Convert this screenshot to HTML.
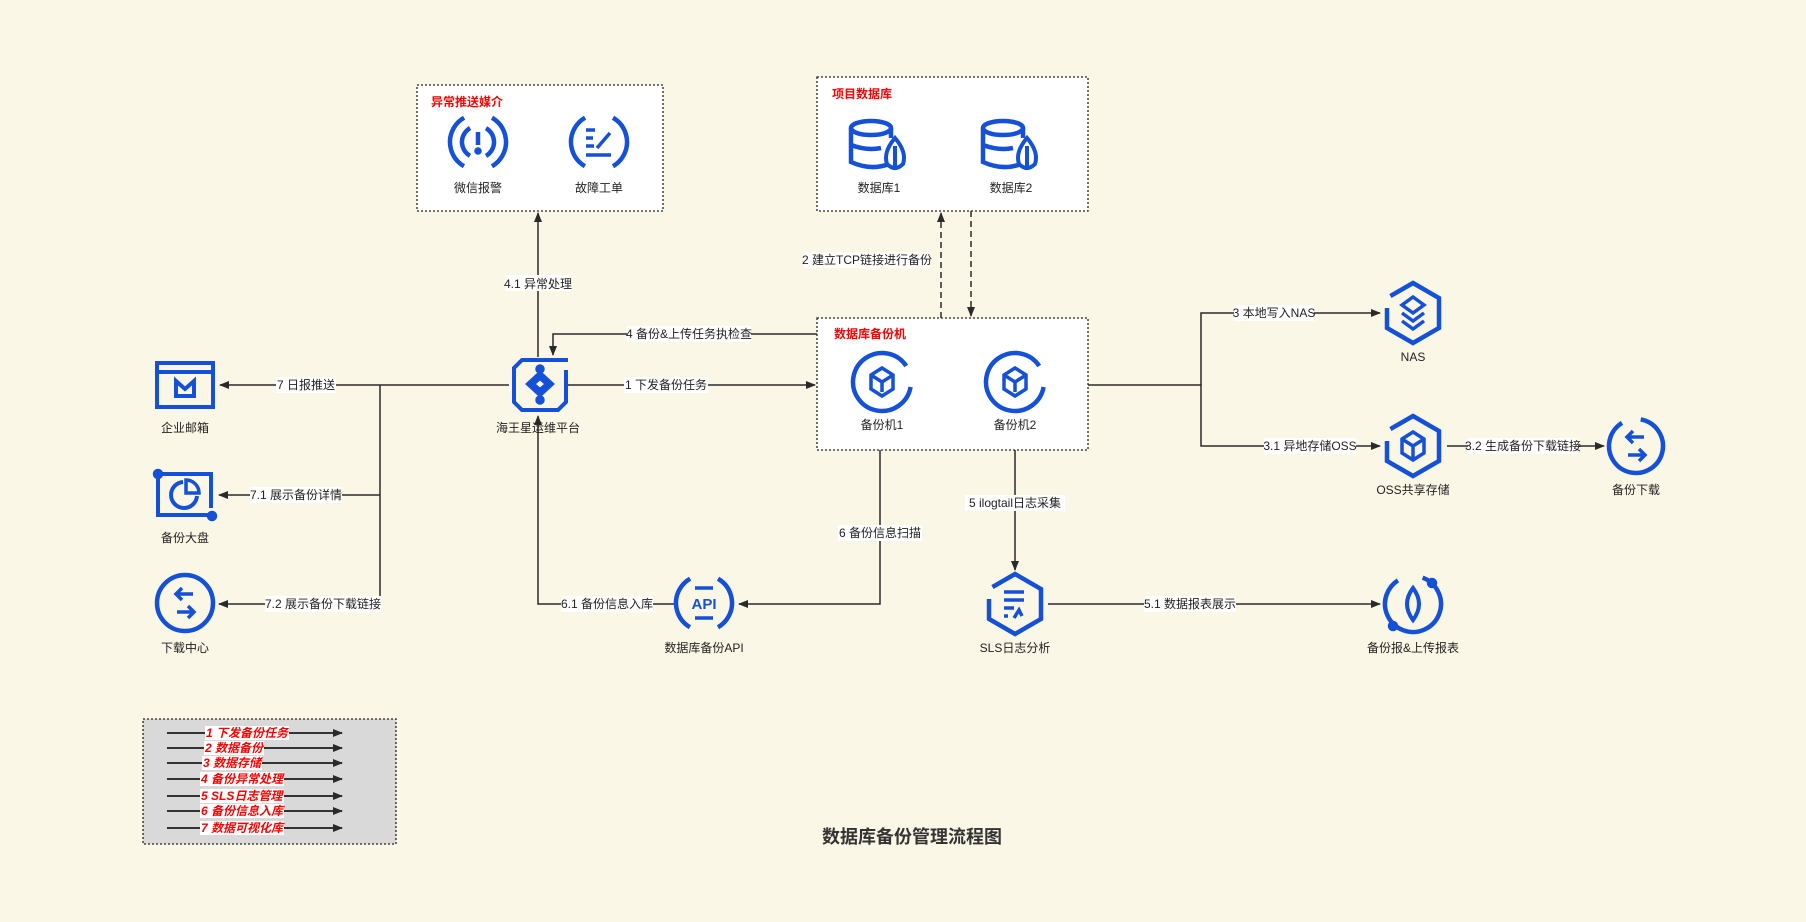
<!DOCTYPE html>
<html><head><meta charset="utf-8"><style>
html,body{margin:0;padding:0;background:#fbf7e6;}
svg{display:block}
text{font-family:"Liberation Sans","Noto Sans CJK SC",sans-serif;}
</style></head><body>
<svg width="1806" height="922" viewBox="0 0 1806 922" xmlns="http://www.w3.org/2000/svg">
<defs>
<marker id="ar" markerWidth="10" markerHeight="8" refX="9" refY="4" orient="auto" markerUnits="userSpaceOnUse">
<path d="M0,0 L10,4 L0,8 Z" fill="#2a2a2a"/></marker>
</defs>
<rect width="1806" height="922" fill="#fbf7e6"/>

<rect x="417" y="85" width="246" height="126" fill="#fff" stroke="#222" stroke-width="1.3" stroke-dasharray="2,2"/>
<text x="431" y="106" font-size="12" font-weight="bold" fill="#ff0000">异常推送媒介</text>
<rect x="817" y="77" width="271" height="134" fill="#fff" stroke="#222" stroke-width="1.3" stroke-dasharray="2,2"/>
<text x="832" y="98" font-size="12" font-weight="bold" fill="#ff0000">项目数据库</text>
<rect x="817" y="318" width="271" height="132" fill="#fff" stroke="#222" stroke-width="1.3" stroke-dasharray="2,2"/>
<text x="834" y="338" font-size="12" font-weight="bold" fill="#ff0000">数据库备份机</text>

<g stroke="#2a2a2a" stroke-width="1.5" fill="none">
<path d="M538,357 V213" marker-end="url(#ar)"/>
<path d="M817,334 H553 V355" marker-end="url(#ar)"/>
<path d="M568,385 H815" marker-end="url(#ar)"/>
<path d="M509,385 H220" marker-end="url(#ar)"/>
<path d="M380,385 V604"/>
<path d="M380,495 H219" marker-end="url(#ar)"/>
<path d="M380,604 H219" marker-end="url(#ar)"/>
<path d="M674,604 H538 V416" marker-end="url(#ar)"/>
<path d="M880,450 V604 H739" marker-end="url(#ar)"/>
<path d="M1015,450 V570" marker-end="url(#ar)"/>
<path d="M1048,604 H1380" marker-end="url(#ar)"/>
<path d="M941,318 V213" stroke-dasharray="6,4" marker-end="url(#ar)"/>
<path d="M971,211 V316" stroke-dasharray="6,4" marker-end="url(#ar)"/>
<path d="M1088,385 H1201 V446 H1380" marker-end="url(#ar)"/>
<path d="M1201,385 V313 H1380" marker-end="url(#ar)"/>
<path d="M1447,446 H1488" />
<path d="M1488,446 H1604" marker-end="url(#ar)"/>
</g>

<g font-size="12" fill="#222" text-anchor="middle">
<rect x="505" y="275" width="66" height="16" fill="#fff"/><text x="538" y="288">4.1 异常处理</text>
<rect x="627" y="326" width="124" height="16" fill="#fff"/><text x="689" y="338">4 备份&amp;上传任务执检查</text>
<rect x="624" y="377" width="84" height="16" fill="#fff"/><text x="666" y="389">1 下发备份任务</text>
<rect x="276" y="377" width="60" height="16" fill="#fff"/><text x="306" y="389">7 日报推送</text>
<rect x="250" y="487" width="92" height="16" fill="#fff"/><text x="296" y="499">7.1 展示备份详情</text>
<rect x="265" y="596" width="116" height="16" fill="#fff"/><text x="323" y="608">7.2 展示备份下载链接</text>
<rect x="561" y="596" width="92" height="16" fill="#fff"/><text x="607" y="608">6.1 备份信息入库</text>
<rect x="838" y="525" width="84" height="16" fill="#fff"/><text x="880" y="537">6 备份信息扫描</text>
<rect x="965" y="495" width="100" height="16" fill="#fff"/><text x="1015" y="507">5 ilogtail日志采集</text>
<rect x="1144" y="596" width="92" height="16" fill="#fff"/><text x="1190" y="608">5.1 数据报表展示</text>
<rect x="804" y="252" width="126" height="16" fill="#fff"/><text x="867" y="264">2 建立TCP链接进行备份</text>
<rect x="1234" y="305" width="80" height="16" fill="#fff"/><text x="1274" y="317">3 本地写入NAS</text>
<rect x="1264" y="438" width="92" height="16" fill="#fff"/><text x="1310" y="450">3.1 异地存储OSS</text>
<rect x="1468" y="438" width="110" height="16" fill="#fff"/><text x="1523" y="450">3.2 生成备份下载链接</text>
</g>

<g font-size="12" fill="#222" text-anchor="middle">
<text x="478" y="192">微信报警</text>
<text x="599" y="192">故障工单</text>
<text x="879" y="192">数据库1</text>
<text x="1011" y="192">数据库2</text>
<text x="882" y="429">备份机1</text>
<text x="1015" y="429">备份机2</text>
<text x="538" y="432">海王星运维平台</text>
<text x="185" y="432">企业邮箱</text>
<text x="185" y="542">备份大盘</text>
<text x="185" y="652">下载中心</text>
<text x="704" y="652">数据库备份API</text>
<text x="1413" y="361">NAS</text>
<text x="1413" y="494">OSS共享存储</text>
<text x="1636" y="494">备份下载</text>
<text x="1015" y="652">SLS日志分析</text>
<text x="1413" y="652">备份报&amp;上传报表</text>
</g>

<g stroke="#1450d8" fill="none" stroke-width="4.5">
<circle cx="478" cy="142" r="28" stroke-dasharray="58.6 29.3" transform="rotate(-60 478 142)"/>
<circle cx="478" cy="142" r="16" stroke-dasharray="33.5 16.8" transform="rotate(-60 478 142)"/>
<line x1="478" y1="132" x2="478" y2="145"/>
<circle cx="478" cy="151" r="1.5" fill="#1450d8"/>
<circle cx="599" cy="142" r="28" stroke-dasharray="58.6 29.3" transform="rotate(-60 599 142)"/>
<path d="M586,130 h9 M586,138 h7 M586,146 h8 M586,155 h25" stroke-width="3.5"/>
<path d="M597,148 L610,133" stroke-width="3.5"/>
<g transform="translate(879,144)">
<ellipse cx="-8" cy="-16" rx="20" ry="7"/>
<path d="M-28,-16 V18 Q-8,27 10,20 M-28,1 Q-12,7 2,4 M12,-16 V-6"/>
<path d="M16,-6 Q4,8 8,20 Q16,28 24,20 Q28,8 16,-6 Z M16,2 V26" stroke-width="4"/>
</g>
<g transform="translate(1011,144)">
<ellipse cx="-8" cy="-16" rx="20" ry="7"/>
<path d="M-28,-16 V18 Q-8,27 10,20 M-28,1 Q-12,7 2,4 M12,-16 V-6"/>
<path d="M16,-6 Q4,8 8,20 Q16,28 24,20 Q28,8 16,-6 Z M16,2 V26" stroke-width="4"/>
</g>
<g transform="translate(882,382)">
<circle r="29" stroke-dasharray="160 22" transform="rotate(10)"/>
<path d="M0,-14 L11,-7 V7 L0,14 L-11,7 V-7 Z M-11,-7 L0,0 L11,-7 M0,0 V10" stroke-width="3.5"/>
</g>
<g transform="translate(1015,382)">
<circle r="29" stroke-dasharray="160 22" transform="rotate(10)"/>
<path d="M0,-14 L11,-7 V7 L0,14 L-11,7 V-7 Z M-11,-7 L0,0 L11,-7 M0,0 V10" stroke-width="3.5"/>
</g>
<path d="M568,360 H522 L514,368 V402 L522,410 H558 L566,402 V370" stroke-width="4"/>
<path d="M540,373 L552,384 L540,395 L528,384 Z M533,384 L540,378 L547,384 L540,390 Z" stroke-width="4"/>
<circle cx="540" cy="369" r="2.5" fill="#1450d8"/><circle cx="540" cy="400" r="2.5" fill="#1450d8"/>
<rect x="157" y="363" width="56" height="44" stroke-width="4"/>
<line x1="157" y1="372" x2="213" y2="372" stroke-width="4"/>
<path d="M176,396 V381 L185,389 L194,381 V396 Z" stroke-width="4"/>
<path d="M158,476 V515 H211" stroke-width="4"/><path d="M158,474 H211 V508" stroke-width="4"/>
<circle cx="158" cy="474" r="3" fill="#1450d8"/><circle cx="212" cy="516" r="3" fill="#1450d8"/>
<path d="M183,482 A13,13 0 1 0 197,496" stroke-width="4"/><path d="M186,480 V493 H199 A13,13 0 0 0 186,480Z" stroke-width="3.5"/>
<circle cx="185" cy="603" r="28"/>
<path d="M193,594 H176 M182,588 L176,594 L182,600 M177,612 H194 M188,606 L194,612 L188,618" stroke-width="3.5"/>
<circle cx="1636" cy="446" r="27" stroke-dasharray="150 20" transform="rotate(-80 1636 446)"/>
<path d="M1644,437 H1627 M1633,431 L1627,437 L1633,443 M1628,455 H1645 M1639,449 L1645,455 L1639,461" stroke-width="3.5"/>
<circle cx="704" cy="603" r="28" stroke-dasharray="58.6 29.3" transform="rotate(-60 704 603)"/>
<path d="M695,588 H713 M695,618 H713" stroke-width="3.5"/>
<path d="M1413,283 L1439,298 V328 L1413,343 L1387,328 V298 Z" stroke-dasharray="140 14"/>
<path d="M1413,297 L1424,305 L1413,313 L1402,305 Z M1402,313 L1413,321 L1424,313 M1402,321 L1413,329 L1424,321" stroke-width="3.5"/>
<path d="M1413,416 L1439,431 V461 L1413,476 L1387,461 V431 Z" stroke-dasharray="140 14"/>
<path d="M1413,432 L1424,439 V453 L1413,460 L1402,453 V439 Z M1402,439 L1413,446 L1424,439 M1413,446 V460" stroke-width="3.5"/>
<path d="M1015,574 L1041,589 V619 L1015,634 L989,619 V589 Z" stroke-dasharray="140 14"/>
<path d="M1004,592 H1024 M1004,600 H1024 M1004,608 H1014 M1004,616 h4 M1014,618 L1019,610 L1022,616" stroke-width="3.5"/>
<circle cx="1413" cy="604" r="28" stroke-dasharray="150 26" transform="rotate(-70 1413 604)"/>
<circle cx="1432" cy="583" r="3" fill="#1450d8"/><circle cx="1393" cy="626" r="3" fill="#1450d8"/>
<path d="M1413,588 Q1401,604 1413,620 Q1425,604 1413,588 Z" stroke-width="4"/>
</g>
<text x="704" y="609" font-size="15" font-weight="bold" fill="#1450d8" text-anchor="middle">API</text>

<rect x="143" y="719" width="253" height="125" fill="#d9d9d9" stroke="#222" stroke-width="1.3" stroke-dasharray="2,2"/>
<g stroke="#333" stroke-width="2" fill="none">
<path d="M167,733 H342" marker-end="url(#ar)"/>
<path d="M167,748 H342" marker-end="url(#ar)"/>
<path d="M167,763 H342" marker-end="url(#ar)"/>
<path d="M167,779 H342" marker-end="url(#ar)"/>
<path d="M167,796 H342" marker-end="url(#ar)"/>
<path d="M167,811 H342" marker-end="url(#ar)"/>
<path d="M167,828 H342" marker-end="url(#ar)"/>
</g>
<g font-size="12" font-style="italic" font-weight="bold" fill="#ff0000">
<rect x="205" y="726" width="84" height="14" fill="#fff"/><text x="206" y="737">1 下发备份任务</text>
<rect x="204" y="741" width="60" height="14" fill="#fff"/><text x="205" y="752">2 数据备份</text>
<rect x="202" y="756" width="60" height="14" fill="#fff"/><text x="203" y="767">3 数据存储</text>
<rect x="200" y="772" width="84" height="14" fill="#fff"/><text x="201" y="783">4 备份异常处理</text>
<rect x="200" y="789" width="84" height="14" fill="#fff"/><text x="201" y="800">5 SLS日志管理</text>
<rect x="200" y="804" width="84" height="14" fill="#fff"/><text x="201" y="815">6 备份信息入库</text>
<rect x="200" y="821" width="84" height="14" fill="#fff"/><text x="201" y="832">7 数据可视化库</text>
</g>

<text x="912" y="843" font-size="18" font-weight="bold" fill="#333" text-anchor="middle">数据库备份管理流程图</text>
</svg>
</body></html>
